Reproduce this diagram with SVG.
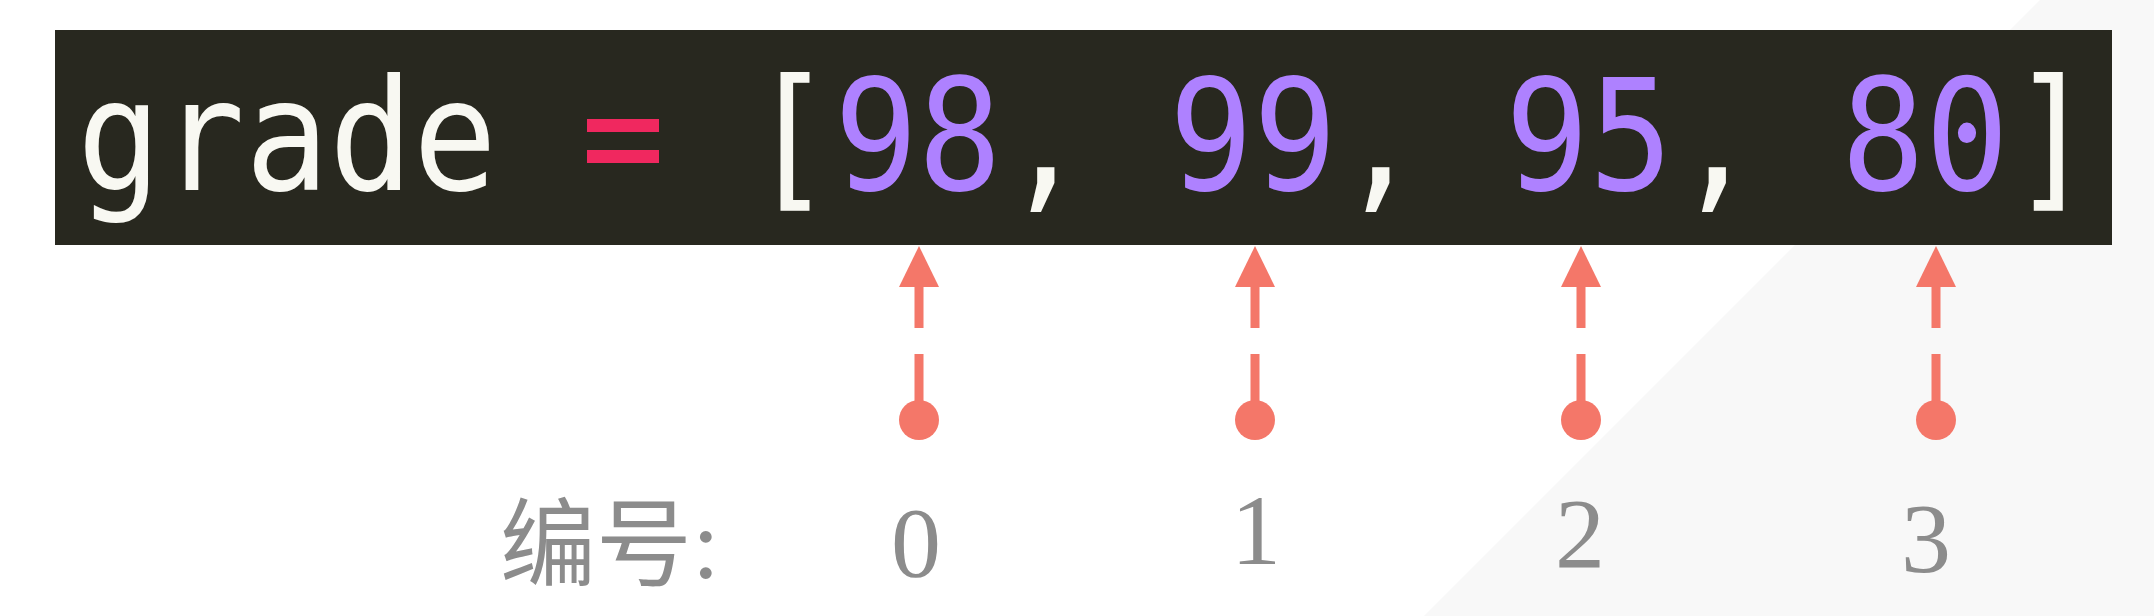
<svg xmlns="http://www.w3.org/2000/svg" width="2154" height="616" viewBox="0 0 2154 616">
<style>
.code{font-family:"DejaVu Sans Mono","Liberation Mono",monospace;font-size:155px;fill:#f8f8f2}
.num{fill:#ae81ff}
.op{fill:#f0285f}
.lbl{font-family:"Liberation Serif","Noto Sans CJK SC",serif;font-size:100px;fill:#8c8c8c}
.cjk{font-family:"Noto Sans CJK SC",sans-serif;font-size:96px;fill:#8c8c8c}
.conn{stroke:#f47769;stroke-width:9;fill:none;stroke-dasharray:66 26 41;marker-start:url(#dot);marker-end:url(#head)}
</style>
<defs>
<marker id="head" markerUnits="userSpaceOnUse" markerWidth="42" markerHeight="40" refX="0" refY="20" orient="auto"><path d="M0,0 L41,20 L0,40 Z" fill="#f47769"/></marker>
<marker id="dot" markerUnits="userSpaceOnUse" markerWidth="42" markerHeight="42" refX="21" refY="21" orient="auto"><circle cx="21" cy="21" r="20" fill="#f47769"/></marker>
</defs>
<rect width="2154" height="616" fill="#ffffff"/>
<polygon points="2040,0 2154,0 2154,616 1424,616" fill="#f8f8f8"/>
<g id="code">
<rect x="55" y="30" width="2057" height="215" fill="#28281f"/>
<g transform="translate(77,190) scale(0.9,1)">
<text class="code" x="0" y="0">grade</text>
<text class="code op" x="560" y="0">=</text>
<text class="code" x="746.7" y="0">[</text>
<text class="code num" x="841" y="0">98</text>
<text class="code" x="1029" y="0">,</text>
<text class="code num" x="1213.3" y="0">99</text>
<text class="code" x="1401" y="0">,</text>
<text class="code num" x="1586.7" y="0">95</text>
<text class="code" x="1775" y="0">,</text>
<text class="code num" x="1960" y="0">80</text>
<text class="code" x="2148" y="0">]</text>
</g>
</g>
<g id="connectors">
<path class="conn" d="M919,420 L919,287"/>
<path class="conn" d="M1255,420 L1255,287"/>
<path class="conn" d="M1581,420 L1581,287"/>
<path class="conn" d="M1936,420 L1936,287"/>
</g>
<g id="labels">
<text class="cjk" x="500" y="578">编号<tspan class="lbl">:</tspan></text>
<text class="lbl" x="916" y="576" text-anchor="middle">0</text>
<text class="lbl" x="1256" y="564" text-anchor="middle">1</text>
<text class="lbl" x="1580" y="567" text-anchor="middle">2</text>
<text class="lbl" x="1926" y="572" text-anchor="middle">3</text>
</g>
</svg>
